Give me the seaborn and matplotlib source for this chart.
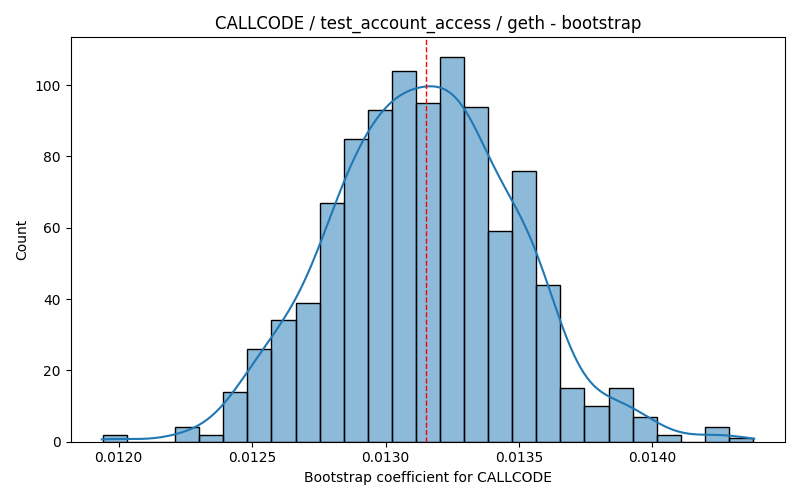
import numpy as np
import pandas as pd
import seaborn as sns
import matplotlib
matplotlib.use("Agg")
import matplotlib.pyplot as plt

# histogram: 27 bins between these edges
bin_start = 0.011941
bin_end = 0.014377
counts = [2, 0, 0, 4, 2, 14, 26, 34, 39, 67, 85, 93, 104, 95,
          108, 94, 59, 76, 44, 15, 10, 15, 7, 2, 0, 4, 1]
point_estimate = 0.013151

edges = np.linspace(bin_start, bin_end, len(counts) + 1)
centers = (edges[:-1] + edges[1:]) / 2
# one row per bootstrap sample, placed at its bin centre
df = pd.DataFrame({'coef': np.repeat(centers, counts)})

fig, ax = plt.subplots(figsize=(8, 5), dpi=100)
sns.histplot(data=df, x='coef', bins=edges.tolist(), kde=True,
             kde_kws={'cut': 0.5, 'bw_adjust': 1.15}, ax=ax)
ax.axvline(point_estimate, color='red', linestyle='--', linewidth=1)
ax.set_xlim(0.01182, 0.014497)
ax.set_title('CALLCODE / test_account_access / geth - bootstrap')
ax.set_xlabel('Bootstrap coefficient for CALLCODE')
ax.set_ylabel('Count')
plt.tight_layout()
plt.savefig('out.png')
